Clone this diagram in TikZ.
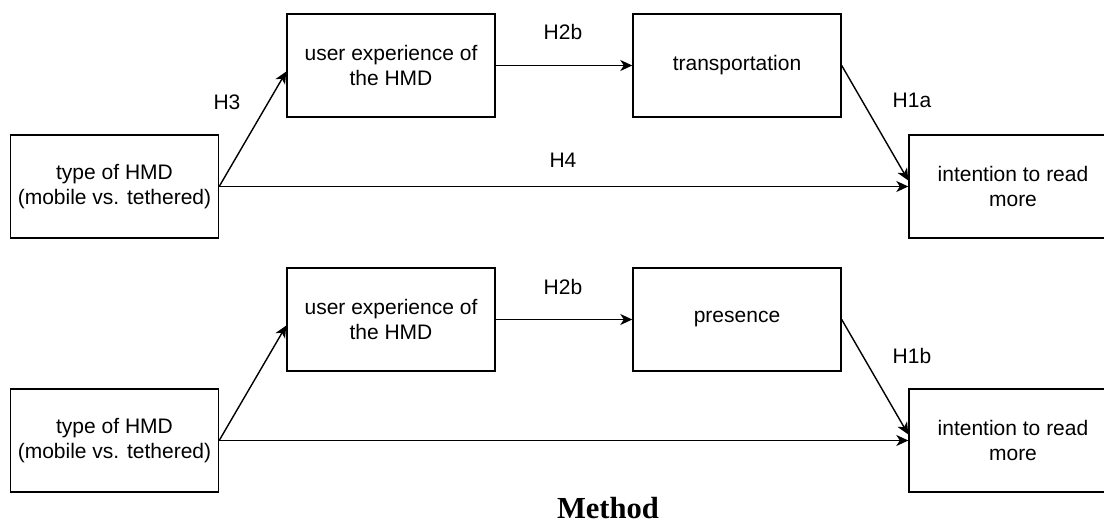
\documentclass[tikz,border=0pt]{standalone}
\usepackage{fontspec}
\setmainfont{Liberation Sans}
\newfontfamily\titlefont{Liberation Serif}
\usetikzlibrary{arrows.meta}

\tikzset{
  box/.style={draw, line width=1.4pt, minimum width=208pt, minimum height=103pt,
    inner sep=0pt, align=center, font=\fontsize{21}{25}\selectfont},
  lbl/.style={inner sep=0pt, font=\fontsize{21}{25}\selectfont},
  link/.style={line width=1.4pt, -{Stealth[length=12pt,width=11pt,inset=3.5pt]}},
}

\begin{document}
\begin{tikzpicture}[x=1pt,y=-1pt]
\useasboundingbox (0,0) rectangle (1104,526);
\clip (0,0) rectangle (1104,526);

% upper model: transportation
\node[box] (type1) at (114.5,186.5) {type of HMD\\(mobile vs. tethered)};
\node[box] (ux1)   at (391,65.5)    {user experience of\\the HMD};
\node[box] (tr1)   at (737,65.5)    {transportation};
\node[box] (int1)  at (1013,186.5)  {intention to read\\more};

\draw[link] (type1.east) -- ([yshift=-6pt]ux1.west);
\draw[link] (type1.east) -- (int1.west);
\draw[link] (ux1.east) -- (tr1.west);
\draw[link] (tr1.east) -- ([yshift=6pt]int1.west);

\node[lbl] (h3)   at (227,102) {H3};
\node[lbl] (h2b1) at (563,32)  {H2b};
\node[lbl] (h4)   at (563,160) {H4};
\node[lbl] (h1a)  at (912,100) {H1a};

% lower model: presence
\node[box] (type2) at (114.5,440.5) {type of HMD\\(mobile vs. tethered)};
\node[box] (ux2)   at (391,319.5)   {user experience of\\the HMD};
\node[box] (pr2)   at (737,319.5)   {presence};
\node[box] (int2)  at (1013,440.5)  {intention to read\\more};

\draw[link] (type2.east) -- ([yshift=-6pt]ux2.west);
\draw[link] (type2.east) -- (int2.west);
\draw[link] (ux2.east) -- (pr2.west);
\draw[link] (pr2.east) -- ([yshift=6pt]int2.west);

\node[lbl] (h2b2) at (563,287) {H2b};
\node[lbl] (h1b)  at (912,356) {H1b};

% caption
\node[anchor=base, inner sep=0pt, font=\titlefont\bfseries\fontsize{30.6}{36}\selectfont]
  (method) at (608,519) {Method};
\end{tikzpicture}
\end{document}
